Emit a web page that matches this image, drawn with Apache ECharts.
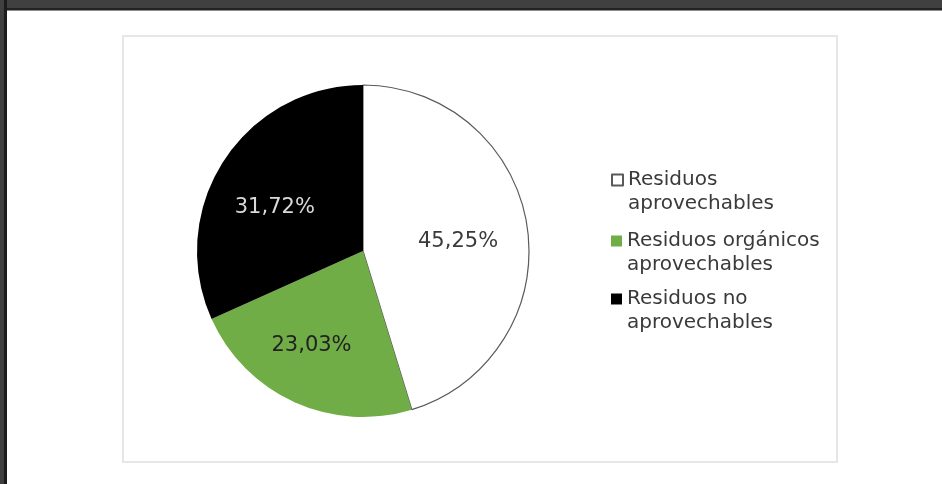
<!DOCTYPE html>
<html>
<head>
<meta charset="utf-8">
<script src="https://cdn.jsdelivr.net/npm/echarts@6/dist/echarts.min.js"></script>
<style>
  html, body { margin: 0; padding: 0; background: #ffffff; }
  #wrap { position: relative; width: 942px; height: 484px; overflow: hidden; background: #ffffff; }
  .f { position: absolute; }
  #chart { position: absolute; left: 0; top: 0; width: 942px; height: 484px; }
</style>
</head>
<body>
<div id="wrap">
  <div class="f" style="left:122px;top:35px;width:716px;height:428px;border:2px solid #e6e6e6;box-sizing:border-box;"></div>
  <div class="f" style="left:0;top:0;width:942px;height:8px;background:#404040;"></div>
  <div class="f" style="left:0;top:8px;width:942px;height:2px;background:#222222;"></div>
  <div class="f" style="left:0;top:10px;width:942px;height:1px;background:#8c8c8c;"></div>
  <div class="f" style="left:0;top:0;width:4px;height:484px;background:#404040;"></div>
  <div class="f" style="left:4px;top:0;width:3px;height:484px;background:#1c1c1c;"></div>
  <div id="chart"></div>
</div>
<script>
const categories = ['Residuos aprovechables', 'Residuos orgánicos aprovechables', 'Residuos no aprovechables'];
const legendLabels = ['Residuos\naprovechables', 'Residuos orgánicos\naprovechables', 'Residuos no\naprovechables'];
const values = [45.25, 23.03, 31.72];
const colors = ['#ffffff', '#70ad47', '#000000'];
const labelColors = ['#3a3a3a', '#222222', '#d9d9d9'];
const labelOffsets = [[10, 3], [-16, 16], [-16, 3]];
const legendTops = [144, 205, 263];

const chart = echarts.init(document.getElementById('chart'), null, { renderer: 'canvas' });

const data = categories.map((name, i) => ({
  name: name,
  value: values[i],
  itemStyle: i === 0
    ? { color: colors[i], borderColor: '#5a5a5a', borderWidth: 1.2 }
    : { color: colors[i], borderWidth: 0 },
  label: { color: labelColors[i], offset: labelOffsets[i] }
}));

const legends = categories.map((name, i) => ({
  data: [name],
  orient: 'vertical',
  left: 611,
  top: legendTops[i],
  padding: 0,
  itemWidth: 11,
  itemHeight: 11,
  selectedMode: false,
  icon: 'rect',
  formatter: function () { return '\n' + legendLabels[i]; },
  textStyle: {
    fontFamily: 'DejaVu Sans',
    fontSize: 20,
    lineHeight: 24,
    color: '#3a3a3a'
  }
}));

chart.setOption({
  animation: false,
  backgroundColor: 'transparent',
  legend: legends,
  series: [{
    type: 'pie',
    center: [363, 251],
    radius: [0, 166],
    startAngle: 90,
    clockwise: true,
    avoidLabelOverlap: false,
    label: {
      show: true,
      position: 'inside',
      fontFamily: 'DejaVu Sans',
      fontSize: 21,
      formatter: function (p) { return p.value.toFixed(2).replace('.', ',') + '%'; }
    },
    labelLine: { show: false },
    emphasis: { disabled: true },
    data: data
  }]
});
</script>
</body>
</html>
